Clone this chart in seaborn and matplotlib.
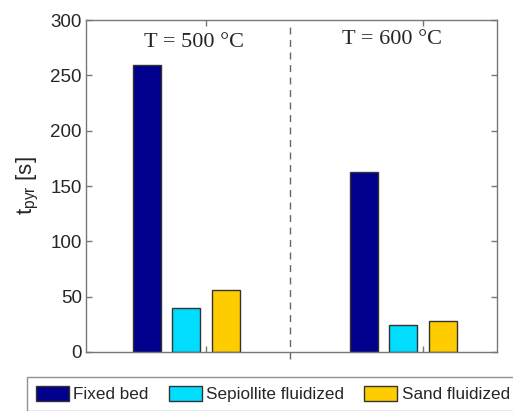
import matplotlib
matplotlib.use("Agg")
import matplotlib.pyplot as plt
from matplotlib.patches import Patch
import seaborn as sns
import pandas as pd

temperatures = ["500", "600"]
beds = ["Fixed bed", "Sepiollite fluidized", "Sand fluidized"]
fixed_bed = [259, 163]
sepiolite = [40, 24.5]
sand = [56, 28]
colors = ["#00008C", "#00DDFF", "#FFCC00"]
panel_labels = ["T = 500 °C", "T = 600 °C"]

rows = []
for bed, vals in zip(beds, [fixed_bed, sepiolite, sand]):
    for t, v in zip(temperatures, vals):
        rows.append({"temp": t, "bed": bed, "value": v})
df = pd.DataFrame(rows)

sns.set_style("ticks")
plt.rcParams["font.family"] = ["Liberation Sans", "DejaVu Sans"]
plt.rcParams["mathtext.default"] = "regular"

fig = plt.figure(figsize=(5.13, 4.11), dpi=100)
ax = fig.add_axes([86 / 513, 1 - 352 / 411, (497 - 86) / 513, (352 - 20) / 411])

hue_order = beds + ["_empty"]
palette = dict(zip(hue_order, colors + ["white"]))
sns.barplot(data=df, x="temp", y="value", hue="bed", hue_order=hue_order,
            order=temperatures, palette=palette, width=0.728, gap=0.29,
            edgecolor="#333333", linewidth=1.0, saturation=1, legend=False,
            errorbar=None, ax=ax)

ax.set_ylim(0, 300)
ax.set_yticks(range(0, 301, 50))
ax.set_xlim(-0.553, 1.341)
ax.set_xticks([0, 1])
ax.set_xticklabels([])
ax.set_xlabel("")
ax.set_ylabel(r"$t_{pyr}$ [s]", fontsize=16, labelpad=7)

for s in ax.spines.values():
    s.set_visible(True)
    s.set_color("#777777")
    s.set_linewidth(1.0)
ax.tick_params(direction="in", length=4, width=1.0, color="#777777",
               top=True, right=True, labelsize=13.5, pad=3)

ax.axvline(0.387, ymin=-0.02, ymax=0.98, color="#666666", linestyle=(0, (5, 4)),
           linewidth=1.0, clip_on=False)

ax.text(-0.055, 280, panel_labels[0], ha="center", va="center",
        family="Liberation Serif", fontsize=16)
ax.text(0.857, 282, panel_labels[1], ha="center", va="center",
        family="Liberation Serif", fontsize=16)

handles = [Patch(facecolor=c, edgecolor="#333333", linewidth=1.0) for c in colors]
leg = fig.legend(handles, beds, loc="upper left",
                 bbox_to_anchor=(27 / 513, 1 - 377 / 411), ncol=3,
                 fontsize=12.3, frameon=True, fancybox=False, shadow=False,
                 handlelength=1.93, handleheight=1.0, handletextpad=0.25,
                 columnspacing=1.2, borderpad=0.5, borderaxespad=0)
leg.get_frame().set_edgecolor("#777777")
leg.get_frame().set_linewidth(1.0)

fig.savefig("out.png", dpi=100)
